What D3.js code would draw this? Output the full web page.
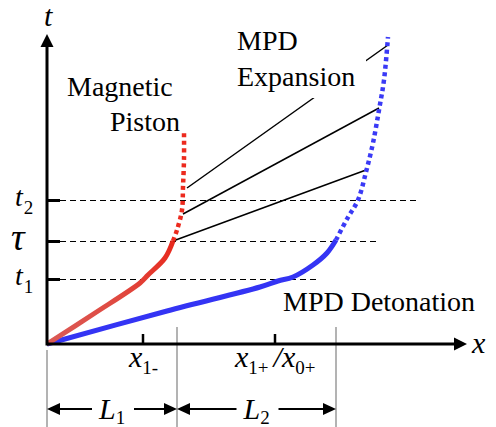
<!DOCTYPE html>
<meta charset="utf-8">
<style>
  body { margin: 0; background: #fff; }
  svg text { font-family: "Liberation Serif", "Times New Roman", Tinos, "Nimbus Roman", "Nimbus Roman No9 L", "Noto Serif", "DejaVu Serif", FreeSerif, Times, serif; fill: #000; }
  text.label { font-size: 28px; }
  text.math { font-size: 30px; font-style: italic; }
  tspan.sub { font-size: 19px; font-style: normal; }
</style>
<script src="https://d3js.org/d3.v7.min.js"></script>
<div id="chart"></div>
<script>

// time levels on the t axis (offsets from origin)
var levelNames = ["t", "\u03c4", "t"];
var levelSubs = ["1", "", "2"];
var levelValues = [65, 103, 144];
var levelEnds = [273, 329, 370];

// x axis marks
var xTickNames = ["x1-", "x1+/x0+"];
var xTickValues = [96, 228];
var spanEnds = [0, 130, 289];   // L1 = 0..130, L2 = 130..289
var spanNames = ["1", "2"];

// magnetic piston trajectory
var pistonSolid = [[0, 0], [48, 31], [93, 61], [101, 69], [118, 86], [126, 103]];
var pistonDotted = [[126, 103], [130, 114], [135, 134], [136, 157], [137, 185], [137, 212]];

// detonation front
var detSolid = [[0, 0], [120, 33], [213, 57], [231, 63], [246, 67], [266, 79], [280, 91], [289, 104]];
var detDotted = [[289, 104], [300, 125], [311, 144], [319, 172], [326, 201], [332, 234], [337, 264], [341, 307]];

// expansion characteristics [start, end]
var chars = [
  [[126, 103], [319, 174]],
  [[136, 130], [332, 236]],
  [[140, 156], [341, 299]]
];

var W = 496, H = 427;
var svg = d3.select("#chart").append("svg")
    .attr("width", W)
    .attr("height", H);

var x = d3.scaleLinear().domain([0, 420]).range([47, 467]);
var y = d3.scaleLinear().domain([0, 310]).range([344, 34]);

var line = d3.line()
    .x(function(d) { return x(d[0]); })
    .y(function(d) { return y(d[1]); })
    .curve(d3.curveCatmullRom.alpha(0.5));

var defs = svg.append("defs");
var grad = defs.append("linearGradient")
    .attr("id", "redgrad")
    .attr("gradientUnits", "userSpaceOnUse")
    .attr("x1", x(0)).attr("y1", y(0))
    .attr("x2", x(126)).attr("y2", y(103));
grad.append("stop").attr("offset", "0%").attr("stop-color", "#db5a56");
grad.append("stop").attr("offset", "55%").attr("stop-color", "#e0483f");
grad.append("stop").attr("offset", "100%").attr("stop-color", "#e8281c");

// gray guide lines below the x axis
svg.selectAll("line.guide")
  .data(spanEnds)
  .enter().append("line")
    .attr("class", "guide")
    .attr("x1", function(d) { return x(d); })
    .attr("x2", function(d) { return x(d); })
    .attr("y1", function(d, i) { return i == 0 ? 350 : 327; })
    .attr("y2", H)
    .attr("stroke", "#9a9a9a")
    .attr("stroke-width", 1.5);

// dashed time levels
svg.selectAll("line.level")
  .data(levelValues)
  .enter().append("line")
    .attr("x1", x(0) + 13)
    .attr("x2", function(d, i) { return x(levelEnds[i]); })
    .attr("y1", function(d) { return y(d) + 0.5; })
    .attr("y2", function(d) { return y(d) + 0.5; })
    .attr("stroke", "#000")
    .attr("stroke-width", 1.2)
    .attr("stroke-dasharray", "6,4");

svg.selectAll("line.ytick")
  .data(levelValues)
  .enter().append("line")
    .attr("x1", x(0))
    .attr("x2", x(0) + 13)
    .attr("y1", function(d) { return y(d) + 0.5; })
    .attr("y2", function(d) { return y(d) + 0.5; })
    .attr("stroke", "#000")
    .attr("stroke-width", 3);

// characteristics
svg.selectAll("line.char")
  .data(chars)
  .enter().append("line")
    .attr("x1", function(d) { return x(d[0][0]); })
    .attr("y1", function(d) { return y(d[0][1]); })
    .attr("x2", function(d) { return x(d[1][0]); })
    .attr("y2", function(d) { return y(d[1][1]); })
    .attr("stroke", "#000")
    .attr("stroke-width", 1.5);

// label box cuts the top characteristic
svg.append("rect")
    .attr("x", 231).attr("y", 58)
    .attr("width", 135).attr("height", 40)
    .attr("fill", "#fff");

// detonation front
svg.append("path")
    .attr("d", line(detSolid))
    .attr("fill", "none")
    .attr("stroke", "#3434f4")
    .attr("stroke-width", 5);
svg.append("path")
    .attr("d", line(detDotted))
    .attr("fill", "none")
    .attr("stroke", "#3a3af6")
    .attr("stroke-width", 4.5)
    .attr("stroke-dasharray", "4,3.5");

// piston
svg.append("path")
    .attr("d", line(pistonSolid))
    .attr("fill", "none")
    .attr("stroke", "url(#redgrad)")
    .attr("stroke-width", 5);
svg.append("path")
    .attr("d", line(pistonDotted))
    .attr("fill", "none")
    .attr("stroke", "#ec2a1e")
    .attr("stroke-width", 4.5)
    .attr("stroke-dasharray", "4,3.5");

// axes
svg.append("line")
    .attr("x1", x(0)).attr("x2", x(408))
    .attr("y1", y(0)).attr("y2", y(0))
    .attr("stroke", "#000").attr("stroke-width", 3);
svg.append("path")
    .attr("d", "M" + x(420) + "," + y(0) + "L" + (x(420) - 13) + "," + (y(0) - 6.5) + "L" + (x(420) - 13) + "," + (y(0) + 6.5) + "Z")
    .attr("fill", "#000");
svg.append("line")
    .attr("x1", x(0)).attr("x2", x(0))
    .attr("y1", y(0) + 1.5).attr("y2", y(298))
    .attr("stroke", "#000").attr("stroke-width", 3);
svg.append("path")
    .attr("d", "M" + x(0) + "," + y(310) + "L" + (x(0) - 6.5) + "," + (y(310) + 13) + "L" + (x(0) + 6.5) + "," + (y(310) + 13) + "Z")
    .attr("fill", "#000");

svg.selectAll("line.xtick")
  .data(xTickValues)
  .enter().append("line")
    .attr("x1", function(d) { return x(d); })
    .attr("x2", function(d) { return x(d); })
    .attr("y1", y(0))
    .attr("y2", y(0) - 10)
    .attr("stroke", "#000")
    .attr("stroke-width", 2.5);

// axis names
svg.append("text").attr("class", "math").attr("x", 44).attr("y", 26).text("t");
svg.append("text").attr("class", "math").attr("x", 472).attr("y", 353).text("x");

// level labels
var lv = svg.selectAll("text.lv")
  .data(levelValues)
  .enter().append("text")
    .attr("class", "math lv")
    .attr("x", function(d, i) { return levelSubs[i] ? 15 : 11; })
    .attr("y", function(d, i) { return y(d) + (levelSubs[i] ? 6 : 9); })
    .style("font-size", function(d, i) { return levelSubs[i] ? "28px" : "38px"; });
lv.append("tspan").text(function(d, i) { return levelNames[i]; });
lv.append("tspan")
    .attr("class", "sub")
    .attr("dx", 1)
    .attr("dy", 8)
    .text(function(d, i) { return levelSubs[i]; });

// x tick labels
var t1 = svg.append("text").attr("class", "math").attr("x", x(xTickValues[0]) - 14).attr("y", 367);
t1.append("tspan").text("x");
t1.append("tspan").attr("class", "sub").attr("dy", 7).text("1-");

var t2 = svg.append("text").attr("class", "math").attr("x", x(xTickValues[1]) - 40).attr("y", 367);
t2.append("tspan").text("x");
t2.append("tspan").attr("class", "sub").attr("dy", 7).text("1+");
t2.append("tspan").attr("dx", 5).attr("dy", -7).text("/x");
t2.append("tspan").attr("class", "sub").attr("dy", 7).text("0+");

// span arrows L1, L2
var ay = 409;
spanNames.forEach(function(name, i) {
  var a = x(spanEnds[i]), b = x(spanEnds[i + 1]);
  var mid = (a + b) / 2;
  svg.append("line").attr("x1", a + 12).attr("x2", mid - 20).attr("y1", ay).attr("y2", ay)
      .attr("stroke", "#000").attr("stroke-width", 2);
  svg.append("line").attr("x1", mid + 22).attr("x2", b - 12).attr("y1", ay).attr("y2", ay)
      .attr("stroke", "#000").attr("stroke-width", 2);
  svg.append("path").attr("d", "M" + a + "," + ay + "L" + (a + 13) + "," + (ay - 6) + "L" + (a + 13) + "," + (ay + 6) + "Z")
      .attr("fill", "#000");
  svg.append("path").attr("d", "M" + b + "," + ay + "L" + (b - 13) + "," + (ay - 6) + "L" + (b - 13) + "," + (ay + 6) + "Z")
      .attr("fill", "#000");
  var lt = svg.append("text").attr("class", "math").attr("x", mid - 13).attr("y", 419);
  lt.append("tspan").text("L");
  lt.append("tspan").attr("class", "sub").attr("dy", 5).text(name);
});

// region labels
svg.append("text").attr("class", "label").attr("x", 67).attr("y", 96).text("Magnetic");
svg.append("text").attr("class", "label").attr("x", 110).attr("y", 131).text("Piston");
svg.append("text").attr("class", "label").attr("x", 237).attr("y", 50).text("MPD");
svg.append("text").attr("class", "label").attr("x", 237).attr("y", 86).text("Expansion");
svg.append("text").attr("class", "label").attr("x", 283).attr("y", 311).text("MPD Detonation");

</script>
